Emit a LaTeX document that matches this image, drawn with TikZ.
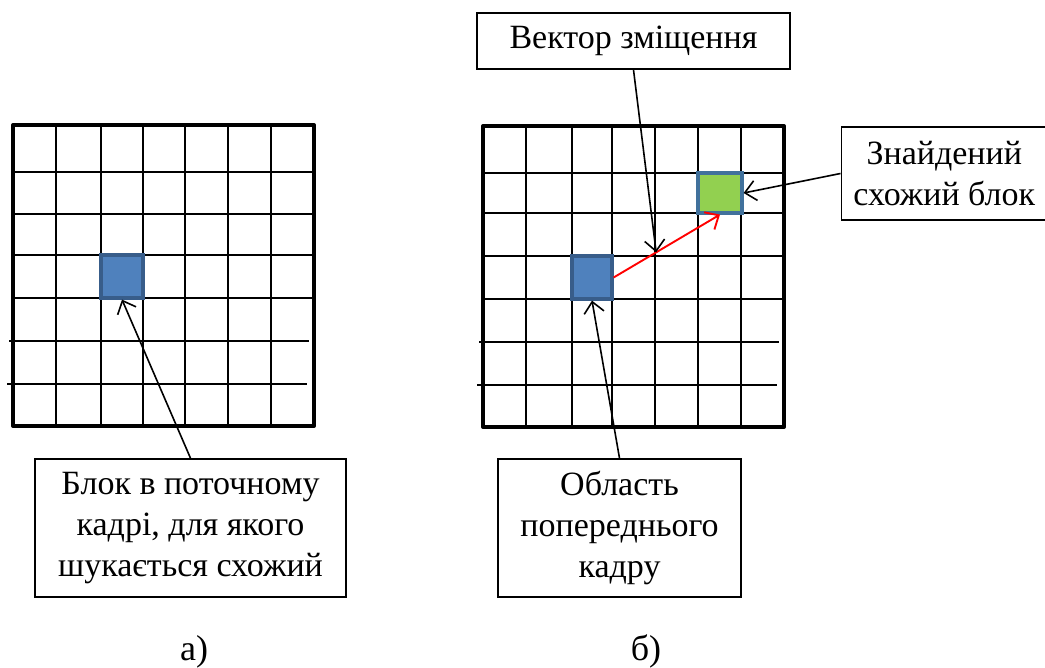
\documentclass[tikz,border=0pt]{standalone}
\usepackage{fontspec}
\setmainfont{Liberation Serif}
\usetikzlibrary{arrows.meta}
\definecolor{blockblue}{HTML}{4F81BD}
\definecolor{blockedge}{HTML}{385D8A}
\definecolor{blockgreen}{HTML}{92D050}
\definecolor{greenedge}{HTML}{41719C}
\tikzset{
  gridline/.style={line width=1.9pt, black},
  gridframe/.style={line width=4pt, black, line join=round},
  labelbox/.style={draw, line width=1.6pt, inner sep=0pt, align=center,
    font=\fontsize{34}{41}\selectfont},
  bluebl/.style={fill=blockblue, draw=blockedge, line width=3.2pt, inner sep=0pt},
  greenbl/.style={fill=blockgreen, draw=greenedge, line width=3.2pt, inner sep=0pt},
  pointer/.style={line width=1.6pt, -{Straight Barb[length=11pt,width=20pt,line width=1.6pt]}},
  redvec/.style={line width=1.9pt, red, -{Straight Barb[length=11pt,width=20pt,line width=1.9pt]}},
  caption/.style={font=\fontsize{36}{40}\selectfont, anchor=base},
}
\begin{document}
\begin{tikzpicture}[x=1pt,y=-1pt]
\useasboundingbox (0,0) rectangle (1045,668);
\clip (0,0) rectangle (1045,668);

% ---------- left grid ----------
\foreach \x in {56,101,143,185,228,271}
  \draw[gridline] (\x,125) -- (\x,426);
\foreach \y in {172,214,255,298}
  \draw[gridline] (13,\y) -- (314,\y);
\draw[gridline] (9,341) -- (309,341);
\draw[gridline] (7,384) -- (307,384);
\draw[gridframe] (13,125) rectangle (314,426);

% ---------- right grid ----------
\foreach \x in {526,572,612,655,698,741}
  \draw[gridline] (\x,126) -- (\x,427);
\draw[gridline] (483,173) -- (786,173);
\draw[gridline] (483,213) -- (784,213);
\draw[gridline] (483,256) -- (786,256);
\draw[gridline] (483,299) -- (784,299);
\draw[gridline] (479,342) -- (779,342);
\draw[gridline] (477,385) -- (777,385);
\draw[gridframe] (483,126) rectangle (784,427);

% ---------- blocks ----------
\node[bluebl, minimum width=42pt, minimum height=43pt] (lblue) at (122,276.5) {};
\node[bluebl, minimum width=40pt, minimum height=43pt] (rblue) at (592,277.5) {};
\node[greenbl, minimum width=44pt, minimum height=40pt] (green) at (720,193) {};

% ---------- label boxes ----------
\node[labelbox, minimum width=311pt, minimum height=138pt] (lbox) at (190.5,528)
  {Блок в поточному\\кадрі, для якого\\шукається схожий};
\node[labelbox, minimum width=243pt, minimum height=138pt] (obox) at (619.5,528)
  {Область\\попереднього\\кадру};
\node[labelbox, minimum width=313pt, minimum height=56pt] (vbox) at (633.5,41)
  {Вектор зміщення};
\node[labelbox, minimum width=206pt, minimum height=93pt, anchor=west] (fbox) at (840.5,173.5)
  {Знайдений\\схожий блок};

% ---------- connectors ----------
\draw[redvec] (rblue.east) -- coordinate[pos=0.4] (vmid) (green.south);
\draw[pointer] (lbox.north) -- (lblue.south);
\draw[pointer] (obox.north) -- (rblue.south);
\draw[pointer] (vbox.south) -- (vmid);
\draw[pointer] (fbox.west) -- (green.east);

% ---------- captions ----------
\node[caption] (capa) at (194,660) {а)};
\node[caption] (capb) at (646,660) {б)};
\end{tikzpicture}
\end{document}
